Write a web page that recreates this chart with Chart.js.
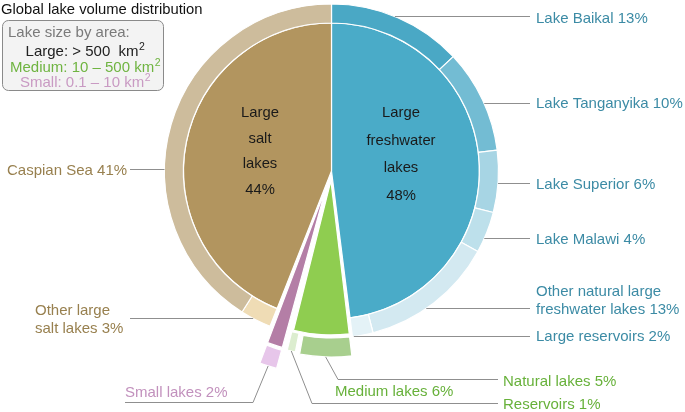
<!DOCTYPE html>
<html>
<head>
<meta charset="utf-8">
<script src="https://cdn.jsdelivr.net/npm/chart.js@4.4.1/dist/chart.umd.min.js"></script>
<style>
  html, body { margin: 0; padding: 0; background: #fff; }
</style>
</head>
<body>
<canvas id="lakeChart" width="685" height="412"></canvas>
<script>
// Inner pie: lake groups (% of global lake volume)
const groupNames = ['Large freshwater lakes', 'Medium lakes', 'Small lakes', 'Large salt lakes'];
const groupValues = [48, 6, 2, 44];

// Outer ring: breakdown of each group, same clockwise order
const partNames = ['Lake Baikal', 'Lake Tanganyika', 'Lake Superior', 'Lake Malawi',
    'Other natural large\nfreshwater lakes', 'Large reservoirs', 'Natural lakes', 'Reservoirs',
    'Small lakes', 'Other large\nsalt lakes', 'Caspian Sea'];
const partValues = [13, 10, 6, 4, 13, 2, 5, 1, 2, 3, 41];
const partGroup = [0, 0, 0, 0, 0, 0, 1, 1, 2, 3, 3];

// Legend lines (each ends with km, a superscript 2 is added)
const legendTitle = 'Lake size by area:';
const sizeClasses = ['Large: > 500  km', 'Medium: 10 \u2013 500 km', 'Small: 0.1 \u2013 10 km'];

// styles
const groupColors = ['#4aabc8', '#8fcd50', '#b47ea6', '#b2955f'];
const partColors = ['#4aa8c5', '#73bcd3', '#a7d5e4', '#bde0eb', '#d3e9f1', '#e4f2f7',
    '#a8cf8e', '#dcedcf', '#e7c6ea', '#efdcb5', '#cdbc9c'];
const groupTextColors = ['#3c8ba5', '#67b13a', '#c291bd', '#98804f'];
const legendColors = ['#222', '#6fb441', '#c99ac3'];
const groupOffsets = [0, 39, 75, 0];
const partOffsets = [0, 0, 0, 0, 0, 0, 45, 36, 81, 0, 0];

// where the outside labels sit (y = first baseline)
const partLabelPos = [
    { x: 536, y: 23, lineY: 16.5, endX: 530 },
    { x: 536, y: 108, lineY: 103.5, endX: 530 },
    { x: 536, y: 189, lineY: 183.5, endX: 530 },
    { x: 536, y: 244, lineY: 238.5, endX: 530 },
    { x: 536, y: 296, lineY: 308.5, endX: 530 },
    { x: 536, y: 341, lineY: 336.5, endX: 530 },
    { x: 503, y: 386, lineY: 379.5, endX: 498, elbowX: 338 },
    { x: 503, y: 408.5, lineY: 403.5, endX: 498, elbowX: 312 },
    { x: 125, y: 397, lineY: 402.5, endX: 125, elbowX: 253 },
    { x: 35, y: 315, lineY: 318.5, endX: 130 },
    { x: 7, y: 175, lineY: 169.5, endX: 130 }
];
const innerLabelPos = { 0: { x: 401, y: 117, step: 27.5 }, 3: { x: 260, y: 117, step: 25.5 } };
const mediumLabelPos = { x: 335, y: 396 };

const FONT = '"Liberation Sans", Arial, Helvetica, sans-serif';

function outerAnchor(el) {
    const t = (el.options.offset || 0) / 4;
    const fix = 1 - Math.sin(Math.min(Math.PI, el.circumference));
    const mid = (el.startAngle + el.endAngle) / 2;
    const r = el.outerRadius + t * fix + t;
    return { x: el.x + Math.cos(mid) * r, y: el.y + Math.sin(mid) * r };
}

const labelPlugin = {
    id: 'lakeLabels',
    afterDraw(chart) {
        const ctx = chart.ctx;
        const ring = chart.getDatasetMeta(0).data;
        const cx = ring[0].x, cy = ring[0].y, R = ring[0].outerRadius;
        ctx.save();

        // leader lines
        ctx.strokeStyle = '#8f8f8f';
        ctx.lineWidth = 1;
        partLabelPos.forEach((p, i) => {
            ctx.beginPath();
            if (p.elbowX !== undefined) {
                const a = outerAnchor(ring[i]);
                ctx.moveTo(a.x, a.y);
                ctx.lineTo(p.elbowX, p.lineY);
                ctx.lineTo(p.endX, p.lineY);
            } else {
                const dx = Math.sqrt(Math.max(R * R - (p.lineY - cy) * (p.lineY - cy), 0));
                const sx = p.endX > cx ? cx + dx : cx - dx;
                ctx.moveTo(sx, p.lineY);
                ctx.lineTo(p.endX, p.lineY);
            }
            ctx.stroke();
        });

        // outside labels
        ctx.font = '15px ' + FONT;
        ctx.textBaseline = 'alphabetic';
        ctx.textAlign = 'left';
        partLabelPos.forEach((p, i) => {
            ctx.fillStyle = groupTextColors[partGroup[i]];
            const lines = (partNames[i] + ' ' + partValues[i] + '%').split('\n');
            lines.forEach((s, k) => ctx.fillText(s, p.x, p.y + k * 17.5));
        });
        ctx.fillStyle = groupTextColors[1];
        ctx.fillText(groupNames[1] + ' ' + groupValues[1] + '%', mediumLabelPos.x, mediumLabelPos.y);

        // labels inside the pie
        ctx.font = '14.8px ' + FONT;
        ctx.textAlign = 'center';
        ctx.fillStyle = '#1a1a1a';
        Object.keys(innerLabelPos).forEach(g => {
            const p = innerLabelPos[g];
            const words = groupNames[g].split(' ').concat(groupValues[g] + '%');
            words.forEach((w, k) => ctx.fillText(w, p.x, p.y + k * p.step));
        });

        // title
        ctx.textAlign = 'left';
        ctx.font = '14.8px ' + FONT;
        ctx.fillStyle = '#111';
        ctx.fillText('Global lake volume distribution', 1, 14);

        // legend box
        ctx.beginPath();
        ctx.roundRect(2.5, 20.5, 161, 70, 6);
        ctx.fillStyle = '#f3f3f3';
        ctx.fill();
        ctx.strokeStyle = '#8a8a8a';
        ctx.stroke();
        ctx.font = '15px ' + FONT;
        ctx.fillStyle = '#7a7a7a';
        ctx.fillText(legendTitle, 8, 37);
        sizeClasses.forEach((s, k) => {
            ctx.font = '15px ' + FONT;
            const w1 = ctx.measureText(s).width;
            ctx.font = '10.5px ' + FONT;
            const w2 = ctx.measureText('2').width;
            const x0 = 85 - (w1 + w2) / 2;
            const y = 56 + k * 15.5;
            ctx.fillStyle = legendColors[k];
            ctx.font = '15px ' + FONT;
            ctx.fillText(s, x0, y);
            ctx.font = '10.5px ' + FONT;
            ctx.fillText('2', x0 + w1 + 0.5, y - 6);
        });
        ctx.restore();
    }
};

new Chart(document.getElementById('lakeChart'), {
    type: 'doughnut',
    data: {
        labels: partNames,
        datasets: [
            {
                data: partValues,
                backgroundColor: partColors,
                offset: partOffsets,
                weight: 19,
                borderColor: '#ffffff',
                borderWidth: 1.2,
                clip: false
            },
            {
                data: groupValues,
                backgroundColor: groupColors,
                offset: groupOffsets,
                weight: 148,
                borderColor: '#ffffff',
                borderWidth: 1.2,
                clip: false
            }
        ]
    },
    options: {
        responsive: false,
        animation: false,
        events: [],
        radius: 167,
        cutout: 0,
        layout: { padding: { left: 0, right: 22, top: 0, bottom: 70 } },
        plugins: {
            legend: { display: false },
            tooltip: { enabled: false }
        }
    },
    plugins: [labelPlugin]
});
</script>
</body>
</html>
